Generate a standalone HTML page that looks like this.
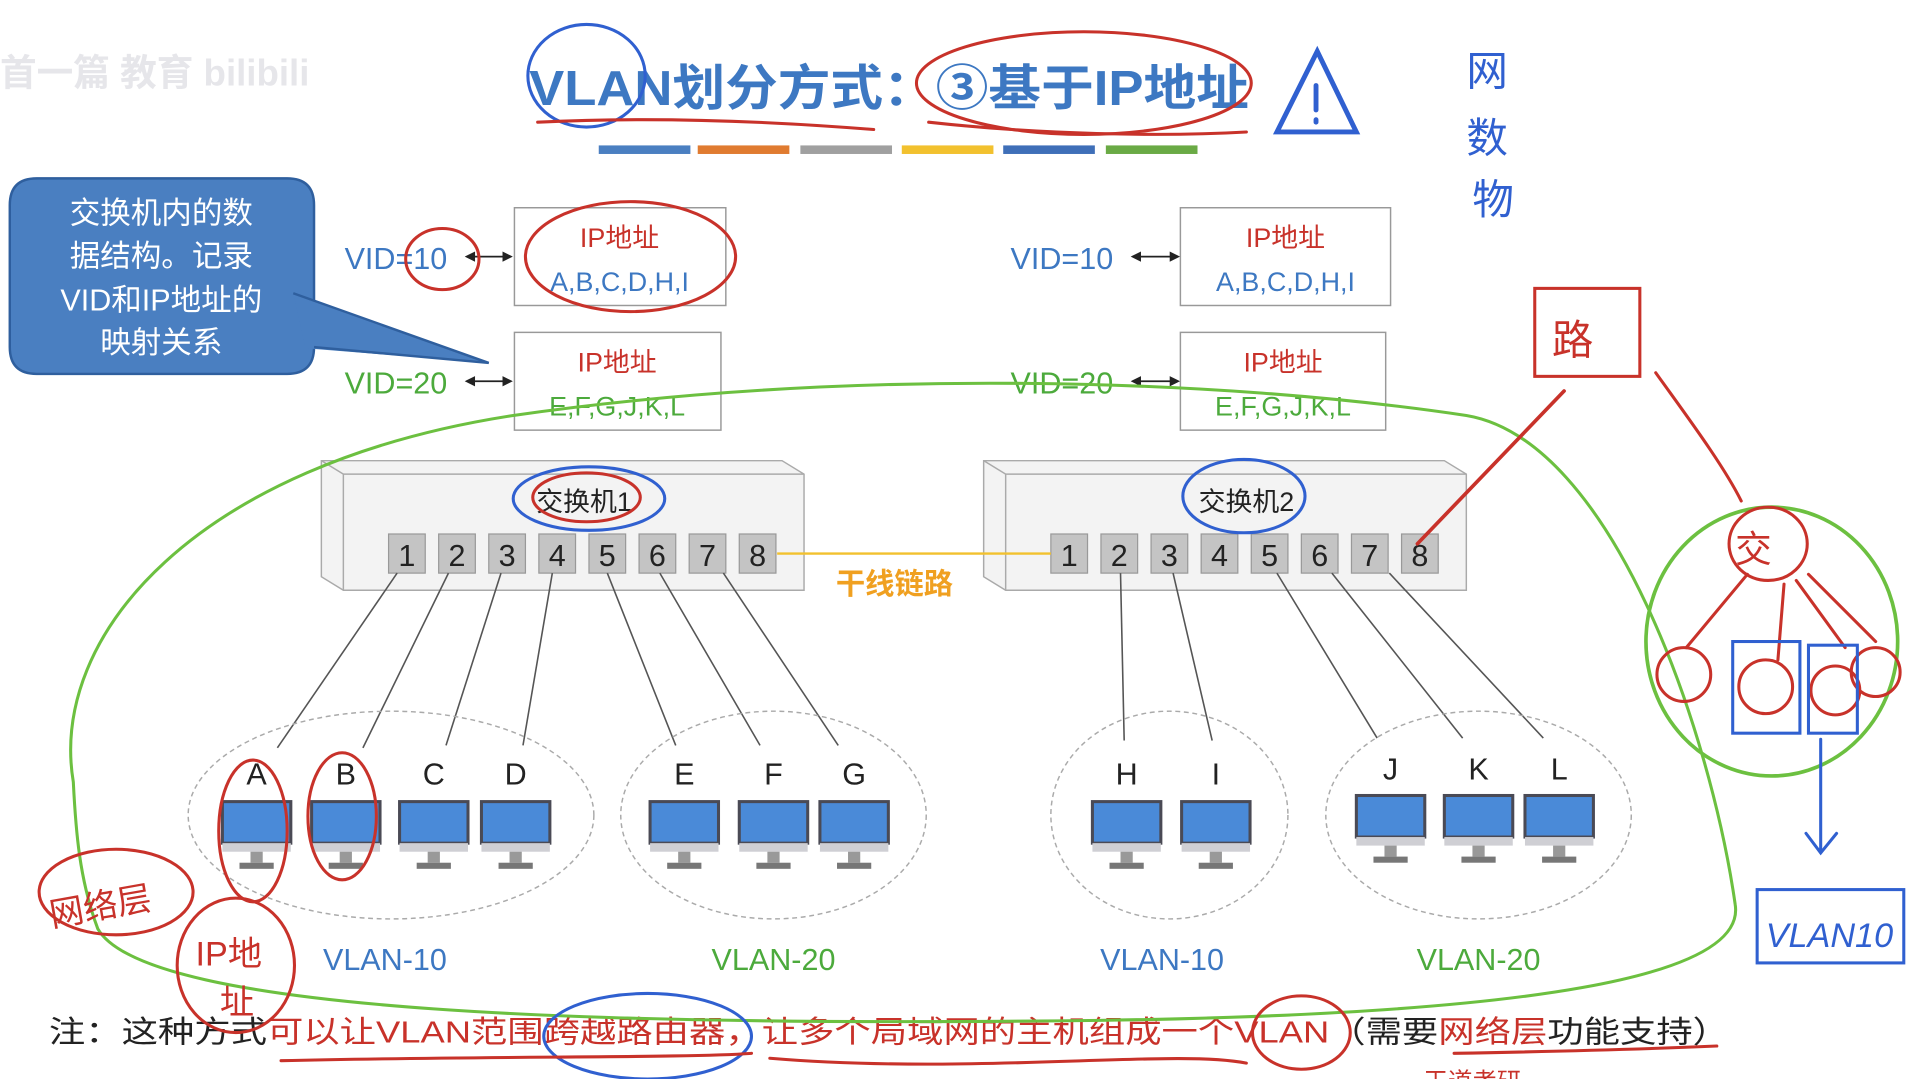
<!DOCTYPE html>
<html><head><meta charset="utf-8"><style>
html,body{margin:0;padding:0;background:#fff;}
svg{display:block;}
text{font-family:"Liberation Sans","Noto Sans CJK SC",sans-serif;}
</style></head><body>
<svg width="1916" height="1079" viewBox="0 0 1568 883" preserveAspectRatio="none" xmlns="http://www.w3.org/2000/svg">
<rect width="1568" height="883" fill="#fff"/>
<text x="0" y="70" font-size="30" fill="#e6e6ea" font-weight="bold">首一篇 教育 bilibili</text>
<text x="433" y="86" font-size="40" fill="#3d78c2" font-weight="bold" textLength="589" lengthAdjust="spacingAndGlyphs">VLAN划分方式：③基于IP地址</text>
<g>
<rect x="490" y="119" width="75" height="7" fill="#4a7fc1"/>
<rect x="571" y="119" width="75" height="7" fill="#e07b30"/>
<rect x="655" y="119" width="75" height="7" fill="#a0a0a0"/>
<rect x="738" y="119" width="75" height="7" fill="#f2c12e"/>
<rect x="821" y="119" width="75" height="7" fill="#3f6fb8"/>
<rect x="905" y="119" width="75" height="7" fill="#6aaa45"/>
</g>
<path d="M30,146 H235 Q257,146 257,168 V284 Q257,306 235,306 H30 Q8,306 8,284 V168 Q8,146 30,146 Z" fill="#4a7fc1" stroke="#2f5f9e" stroke-width="2"/>
<path d="M240,240 L400,297 L250,285 Z" fill="#4a7fc1"/>
<path d="M240,240 L400,297 L257,284" fill="none" stroke="#2f5f9e" stroke-width="2"/>
<g fill="#fff" font-size="25" text-anchor="middle">
<text x="132" y="183">交换机内的数</text>
<text x="132" y="218">据结构。记录</text>
<text x="132" y="254">VID和IP地址的</text>
<text x="132" y="289">映射关系</text>
</g>
<g fill="#fff" stroke="#999" stroke-width="1.2">
<rect x="421" y="170" width="173" height="80"/>
<rect x="421" y="272" width="169" height="80"/>
<rect x="966" y="170" width="172" height="80"/>
<rect x="966" y="272" width="168" height="80"/>
</g>
<g font-size="22" text-anchor="middle">
<text x="507" y="202" fill="#c8322a">IP地址</text>
<text x="507" y="238" fill="#3d78c2">A,B,C,D,H,I</text>
<text x="505" y="304" fill="#c8322a">IP地址</text>
<text x="505" y="340" fill="#4caa3c">E,F,G,J,K,L</text>
<text x="1052" y="202" fill="#c8322a">IP地址</text>
<text x="1052" y="238" fill="#3d78c2">A,B,C,D,H,I</text>
<text x="1050" y="304" fill="#c8322a">IP地址</text>
<text x="1050" y="340" fill="#4caa3c">E,F,G,J,K,L</text>
</g>
<g font-size="25">
<text x="282" y="220" fill="#3d78c2">VID=10</text>
<text x="282" y="322" fill="#4caa3c">VID=20</text>
<text x="827" y="220" fill="#3d78c2">VID=10</text>
<text x="827" y="322" fill="#4caa3c">VID=20</text>
</g>
<g stroke="#222" stroke-width="1.5" fill="#222">
<line x1="384" y1="210" x2="416" y2="210"/><path d="M382,210 l6,-3 v6z M418,210 l-6,-3 v6z"/>
<line x1="384" y1="312" x2="416" y2="312"/><path d="M382,312 l6,-3 v6z M418,312 l-6,-3 v6z"/>
<line x1="929" y1="210" x2="962" y2="210"/><path d="M927,210 l6,-3 v6z M964,210 l-6,-3 v6z"/>
<line x1="929" y1="312" x2="962" y2="312"/><path d="M927,312 l6,-3 v6z M964,312 l-6,-3 v6z"/>
</g>
<g stroke="#aaa" stroke-width="1.2">
<path d="M263,377 H640 L658,388 V483 H281 L263,472 Z" fill="#f3f3f3"/>
<path d="M281,388 H658 M281,388 V483 M263,377 L281,388" fill="none"/>
<path d="M805,377 H1182 L1200,388 V483 H823 L805,472 Z" fill="#f3f3f3"/>
<path d="M823,388 H1200 M823,388 V483 M805,377 L823,388" fill="none"/>
</g>
<text x="478" y="418" font-size="22" text-anchor="middle" fill="#222">交换机1</text>
<text x="1020" y="418" font-size="22" text-anchor="middle" fill="#222">交换机2</text>
<g font-size="25" text-anchor="middle" fill="#222">
<g fill="#c4c4c4" stroke="#999">
<rect x="318" y="437" width="30" height="32"/><rect x="359" y="437" width="30" height="32"/><rect x="400" y="437" width="30" height="32"/><rect x="441" y="437" width="30" height="32"/><rect x="482" y="437" width="30" height="32"/><rect x="523" y="437" width="30" height="32"/><rect x="564" y="437" width="30" height="32"/><rect x="605" y="437" width="30" height="32"/>
<rect x="860" y="437" width="30" height="32"/><rect x="901" y="437" width="30" height="32"/><rect x="942" y="437" width="30" height="32"/><rect x="983" y="437" width="30" height="32"/><rect x="1024" y="437" width="30" height="32"/><rect x="1065" y="437" width="30" height="32"/><rect x="1106" y="437" width="30" height="32"/><rect x="1147" y="437" width="30" height="32"/>
</g>
<text x="333" y="463">1</text><text x="374" y="463">2</text><text x="415" y="463">3</text><text x="456" y="463">4</text><text x="497" y="463">5</text><text x="538" y="463">6</text><text x="579" y="463">7</text><text x="620" y="463">8</text>
<text x="875" y="463">1</text><text x="916" y="463">2</text><text x="957" y="463">3</text><text x="998" y="463">4</text><text x="1039" y="463">5</text><text x="1080" y="463">6</text><text x="1121" y="463">7</text><text x="1162" y="463">8</text>
</g>
<line x1="636" y1="453" x2="860" y2="453" stroke="#f2c12e" stroke-width="2"/>
<text x="732" y="486" font-size="24" text-anchor="middle" fill="#f0a020" font-weight="bold">干线链路</text>
<g stroke="#555" stroke-width="1.3">
<line x1="325" y1="469" x2="227" y2="612"/>
<line x1="367" y1="469" x2="297" y2="612"/>
<line x1="410" y1="469" x2="365" y2="610"/>
<line x1="452" y1="469" x2="428" y2="610"/>
<line x1="497" y1="469" x2="553" y2="610"/>
<line x1="540" y1="469" x2="622" y2="610"/>
<line x1="592" y1="469" x2="686" y2="610"/>
<line x1="917" y1="469" x2="920" y2="606"/>
<line x1="960" y1="469" x2="992" y2="606"/>
<line x1="1045" y1="469" x2="1127" y2="604"/>
<line x1="1090" y1="469" x2="1197" y2="604"/>
<line x1="1137" y1="469" x2="1263" y2="604"/>
</g>
<g fill="none" stroke="#aaa" stroke-dasharray="4,3" stroke-width="1.2">
<ellipse cx="320" cy="667" rx="166" ry="85"/>
<ellipse cx="633" cy="667" rx="125" ry="85"/>
<ellipse cx="957" cy="667" rx="97" ry="85"/>
<ellipse cx="1210" cy="667" rx="125" ry="85"/>
</g>
<defs>
<g id="pc">
<rect x="-28" y="0" width="56" height="34" fill="#4a8ad8" stroke="#4a4a55" stroke-width="2.5"/>
<rect x="-28" y="34" width="56" height="7" fill="#cfcfd4"/>
<rect x="-5" y="41" width="10" height="9" fill="#999"/>
<rect x="-14" y="50" width="28" height="5" fill="#777"/>
</g>
</defs>
<g>
<use href="#pc" x="210" y="656"/><use href="#pc" x="283" y="656"/><use href="#pc" x="355" y="656"/><use href="#pc" x="422" y="656"/>
<use href="#pc" x="560" y="656"/><use href="#pc" x="633" y="656"/><use href="#pc" x="699" y="656"/>
<use href="#pc" x="922" y="656"/><use href="#pc" x="995" y="656"/>
<use href="#pc" x="1138" y="651"/><use href="#pc" x="1210" y="651"/><use href="#pc" x="1276" y="651"/>
</g>
<g font-size="25" text-anchor="middle" fill="#222">
<text x="210" y="642">A</text><text x="283" y="642">B</text><text x="355" y="642">C</text><text x="422" y="642">D</text>
<text x="560" y="642">E</text><text x="633" y="642">F</text><text x="699" y="642">G</text>
<text x="922" y="642">H</text><text x="995" y="642">I</text>
<text x="1138" y="638">J</text><text x="1210" y="638">K</text><text x="1276" y="638">L</text>
</g>
<g font-size="25" text-anchor="middle">
<text x="315" y="794" fill="#3d78c2">VLAN-10</text>
<text x="633" y="794" fill="#4caa3c">VLAN-20</text>
<text x="951" y="794" fill="#3d78c2">VLAN-10</text>
<text x="1210" y="794" fill="#4caa3c">VLAN-20</text>
</g>
<text x="40" y="853" font-size="25" fill="#222" textLength="1375" lengthAdjust="spacingAndGlyphs">注：这种方式<tspan fill="#c8322a">可以让VLAN范围跨越路由器，让多个局域网的主机组成一个VLAN</tspan>（需要<tspan fill="#c8322a">网络层</tspan>功能支持）</text>
<g fill="none" stroke-width="2.5" stroke-linecap="round">
<path d="M60,640 C40,520 160,380 420,340 C700,300 1000,310 1200,340 C1320,360 1400,600 1420,740 C1430,800 1250,830 900,835 C500,840 120,830 80,760 C65,720 62,680 60,640 Z" stroke="#6cc040"/>
<ellipse cx="1450" cy="525" rx="103" ry="110" stroke="#6cc040" stroke-width="3"/>
<ellipse cx="482" cy="408" rx="62" ry="26" stroke="#3060d0"/>
<ellipse cx="480" cy="407" rx="44" ry="20" stroke="#c8322a"/>
<ellipse cx="1018" cy="406" rx="50" ry="30" stroke="#3060d0"/>
<ellipse cx="480" cy="62" rx="48" ry="42" stroke="#3060d0"/>
<path d="M440,100 C540,95 640,100 715,106" stroke="#c8322a"/>
<ellipse cx="887" cy="68" rx="137" ry="42" stroke="#c8322a"/>
<path d="M760,100 C850,110 950,112 1020,108" stroke="#c8322a"/>
<ellipse cx="516" cy="210" rx="86" ry="45" stroke="#c8322a"/>
<ellipse cx="362" cy="212" rx="30" ry="25" stroke="#c8322a"/>
<ellipse cx="207" cy="680" rx="28" ry="58" stroke="#c8322a"/>
<ellipse cx="280" cy="668" rx="28" ry="52" stroke="#c8322a"/>
<ellipse cx="95" cy="730" rx="63" ry="35" stroke="#c8322a"/>
<ellipse cx="193" cy="790" rx="48" ry="55" stroke="#c8322a"/>
<ellipse cx="530" cy="848" rx="85" ry="35" stroke="#3060d0"/>
<ellipse cx="1065" cy="845" rx="40" ry="30" stroke="#c8322a"/>
<path d="M230,868 C400,864 560,866 615,862 M630,866 C800,880 960,858 1020,870 M1190,862 C1300,860 1360,858 1405,856" stroke="#c8322a"/>
<path d="M1045,108 L1078,42 L1110,108 Z" stroke="#3060d0" stroke-width="4"/>
<path d="M1077,70 V90 M1077,98 V100" stroke="#3060d0" stroke-width="4"/>
<path d="M1160,445 L1280,320" stroke="#c8322a" stroke-width="3"/>
<rect x="1256" y="236" width="86" height="72" stroke="#c8322a"/>
<path d="M1355,305 C1380,340 1410,380 1425,410" stroke="#c8322a"/>
<ellipse cx="1447" cy="445" rx="32" ry="30" stroke="#c8322a"/>
<path d="M1430,470 L1380,530 M1460,478 L1455,540 M1470,475 L1510,530 M1480,470 L1535,525" stroke="#c8322a"/>
<circle cx="1378" cy="552" r="22" stroke="#c8322a"/><circle cx="1445" cy="562" r="22" stroke="#c8322a"/><circle cx="1502" cy="565" r="20" stroke="#c8322a"/><circle cx="1535" cy="550" r="20" stroke="#c8322a"/>
<rect x="1418" y="525" width="55" height="75" stroke="#3060d0"/>
<rect x="1480" y="528" width="40" height="72" stroke="#3060d0"/>
<path d="M1490,605 V695 M1478,682 L1490,698 L1503,682" stroke="#3060d0"/>
<rect x="1438" y="728" width="120" height="60" stroke="#3060d0"/>
</g>
<g font-size="34" fill="#c8322a" font-family="Liberation Serif, 'Noto Serif CJK SC', serif">
<text x="1270" y="290">路</text>
<text x="1420" y="460" font-size="30">交</text>
<text x="40" y="750" font-size="28" transform="rotate(-10 90 740)">网络层</text>
<text x="160" y="790" font-size="28">IP地</text>
<text x="180" y="830" font-size="28">址</text>
</g>
<text x="1445" y="775" font-size="28" fill="#3060d0" font-style="italic">VLAN10</text>
<g font-size="34" fill="#3060d0">
<text x="1200" y="70">网</text><text x="1200" y="125">数</text><text x="1205" y="175">物</text>
</g>
<text x="1165" y="892" font-size="20" fill="#c8322a">王道考研</text>
</svg>
</body></html>
